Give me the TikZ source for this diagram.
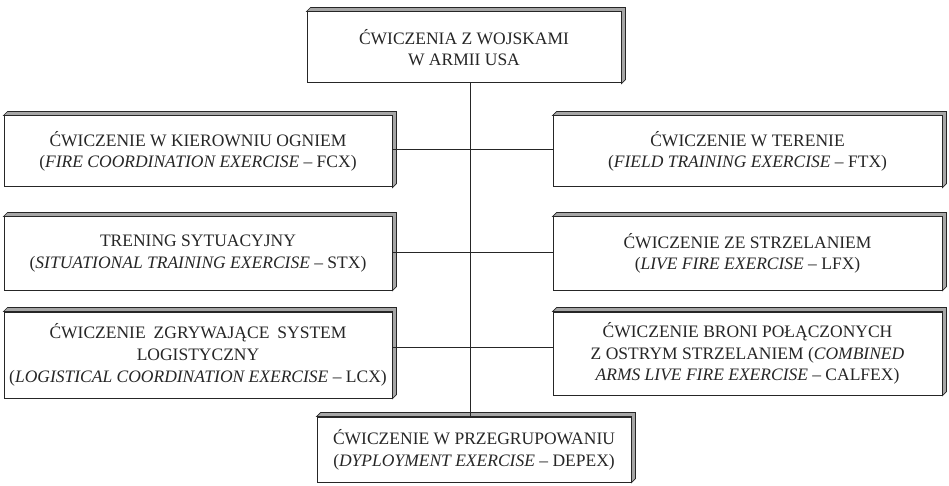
\documentclass[tikz,border=0pt]{standalone}
\usepackage{fontspec}
\setmainfont{Liberation Serif}
\usetikzlibrary{calc}
\tikzset{
  box/.style={draw=black!85, line width=1pt, fill=white, inner sep=0pt, align=center,
    text=black!85, font=\fontsize{17.5}{21.7}\selectfont},
  link/.style={draw=black!85, line width=0.8pt},
  rim/.style={draw=black!85, line width=0.7pt, fill=black!35}
}
\begin{document}
\begin{tikzpicture}[x=1pt,y=1pt]
\useasboundingbox (0,0) rectangle (949,485);
\node[box, minimum width=314, minimum height=71] (top) at (464,437.5)
  {ĆWICZENIA Z WOJSKAMI\\W ARMII USA};
\node[box, minimum width=388, minimum height=71] (l1) at (198,333.5)
  {ĆWICZENIE W KIEROWNIU OGNIEM\\(\textit{FIRE COORDINATION EXERCISE} – FCX)};
\node[box, minimum width=389, minimum height=71] (r1) at (747.5,333.5)
  {ĆWICZENIE W TERENIE\\(\textit{FIELD TRAINING EXERCISE} – FTX)};
\node[box, minimum width=388, minimum height=73] (l2) at (198,231.5)
  {TRENING SYTUACYJNY\\(\textit{SITUATIONAL TRAINING EXERCISE} – STX)};
\node[box, minimum width=389, minimum height=73] (r2) at (747.5,231.5)
  {ĆWICZENIE ZE STRZELANIEM\\(\textit{LIVE FIRE EXERCISE} – LFX)};
\node[box, minimum width=388, minimum height=86] (l3) at (198,130)
  {\makebox[297pt][s]{ĆWICZENIE ZGRYWAJĄCE SYSTEM}\\LOGISTYCZNY\\(\textit{LOGISTICAL COORDINATION EXERCISE} – LCX)};
\node[box, minimum width=389, minimum height=83] (r3) at (747.5,131.5)
  {ĆWICZENIE BRONI POŁĄCZONYCH\\Z OSTRYM STRZELANIEM (\textit{COMBINED}\\\textit{ARMS LIVE FIRE EXERCISE} – CALFEX)};
\node[box, minimum width=314, minimum height=65] (bot) at (474,35.5)
  {ĆWICZENIE W PRZEGRUPOWANIU\\(\textit{DYPLOYMENT EXERCISE} – DEPEX)};
\foreach \n in {top,l1,r1,l2,r2,l3,r3,bot}{
  \draw[rim] (\n.north west) -- ++(4,4) -- ($(\n.north east)+(4,4)$)
    -- ($(\n.south east)+(4,4)$) -- (\n.south east) -- (\n.north east) -- cycle;
}
\coordinate (tx) at (470,0);
\coordinate (c1) at (470,336);
\coordinate (c2) at (470,233);
\coordinate (c3) at (470,138);
\draw[link] (top.south -| tx) -- (bot.north -| tx);
\draw[link] (l1.east |- c1) -- (r1.west |- c1);
\draw[link] (l2.east |- c2) -- (r2.west |- c2);
\draw[link] (l3.east |- c3) -- (r3.west |- c3);
\end{tikzpicture}
\end{document}
